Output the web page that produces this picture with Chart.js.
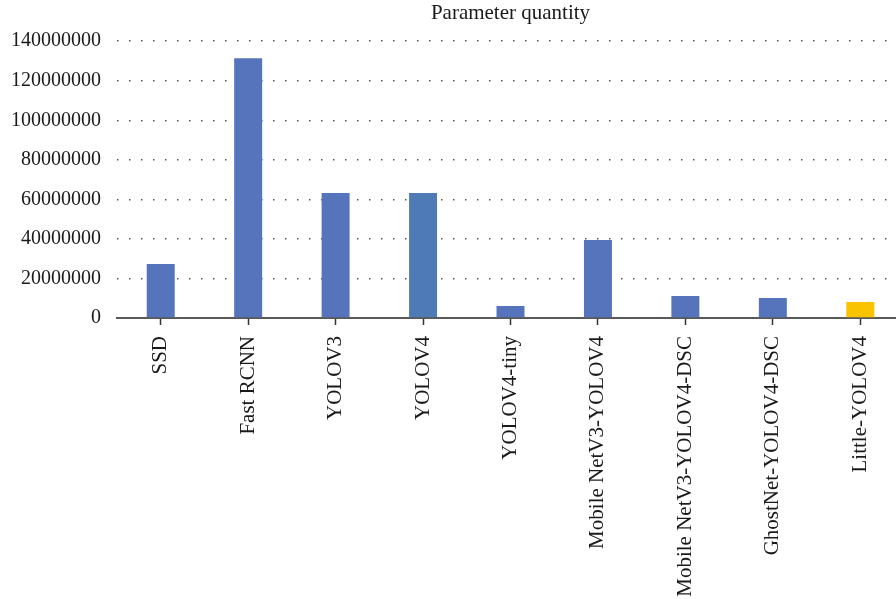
<!DOCTYPE html>
<html>
<head>
<meta charset="utf-8">
<script src="https://cdn.jsdelivr.net/npm/chart.js@4/dist/chart.umd.min.js"></script>
<style>
  html, body { margin: 0; padding: 0; background: #fff; overflow: hidden; }
  #wrap { position: relative; width: 904px; height: 599px; }
</style>
</head>
<body>
<div id="wrap"><canvas id="c" width="904" height="599"></canvas></div>
<script>
// Model names along the x axis
const models = [
  'SSD', 'Fast RCNN', 'YOLOV3', 'YOLOV4', 'YOLOV4-tiny',
  'Mobile NetV3-YOLOV4', 'Mobile NetV3-YOLOV4-DSC', 'GhostNet-YOLOV4-DSC', 'Little-YOLOV4'
];
// Parameter count of each model
const paramCounts = [
  27300000, 131400000, 63200000, 63200000, 6100000,
  39400000, 11100000, 10100000, 8100000
];
// Value axis range and tick step
const yMin = 0;
const yMax = 140000000;
const yStep = 20000000;

const barColors = [
  '#5574BC', '#5574BC', '#5574BC', '#4E7BB6', '#5574BC',
  '#5574BC', '#5574BC', '#5574BC', '#F9C300'
];

const serif = '"Liberation Serif", "DejaVu Serif", serif';

new Chart(document.getElementById('c'), {
  type: 'bar',
  data: {
    labels: models,
    datasets: [{
      label: 'Parameter quantity',
      data: paramCounts,
      backgroundColor: barColors,
      borderWidth: 0,
      barPercentage: 0.32,
      categoryPercentage: 1.0
    }]
  },
  options: {
    responsive: false,
    animation: false,
    devicePixelRatio: 1,
    layout: { padding: { left: 0, right: 0, top: 0, bottom: 0 } },
    plugins: {
      legend: { display: false },
      tooltip: { enabled: false },
      title: {
        display: true,
        text: 'Parameter quantity',
        fullSize: false,
        color: '#1a1a1a',
        font: { family: serif, size: 21, weight: 'normal' },
        padding: { top: 1, bottom: 15 }
      }
    },
    scales: {
      x: {
        offset: true,
        grid: {
          offset: false,
          drawOnChartArea: false,
          drawTicks: true,
          tickLength: 7,
          tickColor: '#333',
          tickWidth: 1.5
        },
        border: { display: true, color: '#595959', width: 2 },
        ticks: {
          autoSkip: false,
          minRotation: 90,
          maxRotation: 90,
          padding: 11,
          color: '#1a1a1a',
          font: { family: serif, size: 21 }
        },
        afterFit: (s) => { s.height = 281; }
      },
      y: {
        min: yMin,
        max: yMax,
        ticks: {
          stepSize: yStep,
          padding: 16,
          color: '#1a1a1a',
          font: { family: serif, size: 20 },
          callback: (v) => String(v)
        },
        grid: {
          drawTicks: false,
          color: '#555',
          lineWidth: 1.5
        },
        border: { display: false, dash: [1.5, 10.5] },
        afterFit: (s) => { s.width = 117; }
      }
    }
  }
});
</script>
</body>
</html>
